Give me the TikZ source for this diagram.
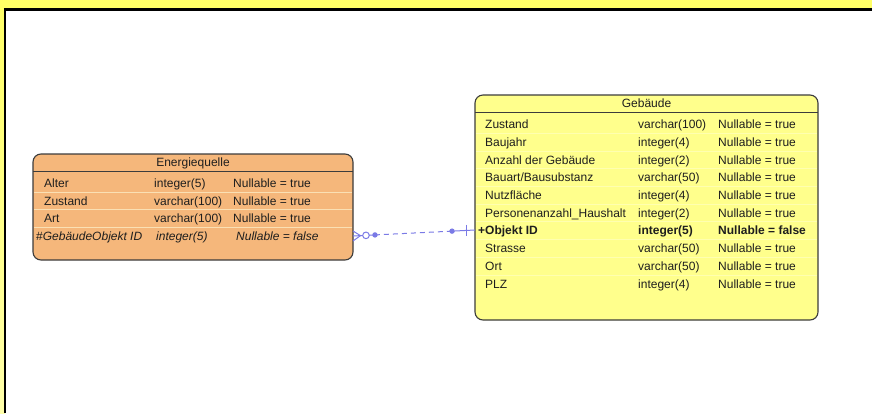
\documentclass[tikz,border=0pt]{standalone}
\usepackage{fontspec}
\setmainfont{Liberation Sans}
\usetikzlibrary{calc}
\definecolor{bgyellow}{HTML}{FFFF66}
\definecolor{bgpale}{HTML}{FFFFAA}
\definecolor{orfill}{HTML}{F5B77B}
\definecolor{yefill}{HTML}{FFFF8C}
\definecolor{edgec}{HTML}{3C3C3C}
\definecolor{orsep}{HTML}{FAE0B4}
\definecolor{yesep}{HTML}{FFFFB0}
\definecolor{conn}{HTML}{7A7AE6}
\definecolor{txt}{HTML}{1E1E1E}
\begin{document}
\begin{tikzpicture}[x=1pt,y=-1pt,
  font=\fontsize{12}{14}\selectfont,
  tablebox/.style={draw=edgec, line width=1.1pt, rounded corners=8pt, inner sep=0pt, outer sep=0pt, anchor=north west},
  cell/.style={anchor=base west, inner sep=0pt, text=txt},
  hdr/.style={anchor=base, inner sep=0pt, text=txt},
  sepline/.style={line width=1pt},
  connline/.style={draw=conn, line width=1pt}]
\useasboundingbox (0,0) rectangle (872,413);
% background frame
\fill[bgyellow] (0,0) rectangle (872,413);
\shade[top color=bgyellow, bottom color=bgpale] (0,9) rectangle (5,413);
\fill[white] (5.3,9) rectangle (872,413);
\draw[black, line width=3pt] (3.8,9) -- (872,9);
\draw[black, line width=2pt] (5.3,9) -- (5.3,413);

% Energiequelle table
\node[tablebox, fill=orfill, minimum width=320pt, minimum height=106pt] (E) at (33,154) {};
\draw[edgec, line width=1pt] (33,171) -- (353,171);
\foreach \yy in {192,209.5,227} \draw[orsep, sepline] (34,\yy) -- (352,\yy);
\node[hdr] (eh) at (193,166.3) {Energiequelle};
\node[cell] (e1a) at (44,187.3) {Alter};
\node[cell] (e1b) at (154,187.3) {integer(5)};
\node[cell] (e1c) at (233,187.3) {Nullable = true};
\node[cell] (e2a) at (44,205.3) {Zustand};
\node[cell] (e2b) at (154,205.3) {varchar(100)};
\node[cell] (e2c) at (233,205.3) {Nullable = true};
\node[cell] (e3a) at (44,222.3) {Art};
\node[cell] (e3b) at (154,222.3) {varchar(100)};
\node[cell] (e3c) at (233,222.3) {Nullable = true};
\node[cell] (e4a) at (36,240.3) {\#\textit{GebäudeObjekt ID}};
\node[cell] (e4b) at (156,240.3) {\textit{integer(5)}};
\node[cell] (e4c) at (236,240.3) {\textit{Nullable = false}};

% Gebaeude table
\node[tablebox, fill=yefill, minimum width=343pt, minimum height=225pt] (G) at (475,95) {};
\draw[edgec, line width=1pt] (475,112) -- (818,112);
\foreach \yy in {133,151,168.5,186,204,221.5,239,257,275} \draw[yesep, sepline] (476,\yy) -- (817,\yy);
\node[hdr] (gh) at (646.5,107.3) {Gebäude};
\node[cell] (g1a) at (485,128.3) {Zustand};
\node[cell] (g1b) at (638,128.3) {varchar(100)};
\node[cell] (g1c) at (718,128.3) {Nullable = true};
\node[cell] (g2a) at (485,146.3) {Baujahr};
\node[cell] (g2b) at (638,146.3) {integer(4)};
\node[cell] (g2c) at (718,146.3) {Nullable = true};
\node[cell] (g3a) at (485,164.3) {Anzahl der Gebäude};
\node[cell] (g3b) at (638,164.3) {integer(2)};
\node[cell] (g3c) at (718,164.3) {Nullable = true};
\node[cell] (g4a) at (485,181.3) {Bauart/Bausubstanz};
\node[cell] (g4b) at (638,181.3) {varchar(50)};
\node[cell] (g4c) at (718,181.3) {Nullable = true};
\node[cell] (g5a) at (485,199.3) {Nutzfläche};
\node[cell] (g5b) at (638,199.3) {integer(4)};
\node[cell] (g5c) at (718,199.3) {Nullable = true};
\node[cell] (g6a) at (485,217.3) {Personenanzahl\_Haushalt};
\node[cell] (g6b) at (638,217.3) {integer(2)};
\node[cell] (g6c) at (718,217.3) {Nullable = true};
\node[cell] (g7a) at (478,234.3) {\textbf{+Objekt ID}};
\node[cell] (g7b) at (638,234.3) {\textbf{integer(5)}};
\node[cell] (g7c) at (718,234.3) {\textbf{Nullable = false}};
\node[cell] (g8a) at (485,252.3) {Strasse};
\node[cell] (g8b) at (638,252.3) {varchar(50)};
\node[cell] (g8c) at (718,252.3) {Nullable = true};
\node[cell] (g9a) at (485,270.3) {Ort};
\node[cell] (g9b) at (638,270.3) {varchar(50)};
\node[cell] (g9c) at (718,270.3) {Nullable = true};
\node[cell] (g10a) at (485,288.3) {PLZ};
\node[cell] (g10b) at (638,288.3) {integer(4)};
\node[cell] (g10c) at (718,288.3) {Nullable = true};

% connector
\coordinate (ea) at ([yshift=-29pt]E.east);
\coordinate (gb) at ([yshift=-22.5pt]G.west);
\draw[connline] (ea) -- ($(ea)!22pt!(gb)$);
\draw[connline, dash pattern=on 5pt off 4pt] ($(ea)!22pt!(gb)$) -- ($(gb)!23pt!(ea)$);
\draw[connline] ($(gb)!23pt!(ea)$) -- (gb);
\draw[connline] ([yshift=5pt]ea) -- ($(ea)!7.5pt!(gb)$) -- ([yshift=-5pt]ea);
\draw[connline, fill=white] ($(ea)!13pt!(gb)$) circle (3.3pt);
\fill[conn] ($(ea)!22pt!(gb)$) circle (2.7pt);
\fill[conn] ($(gb)!23pt!(ea)$) circle (2.7pt);
\draw[connline] ($(gb)!9pt!(ea)$) ++(0,-5.5) -- ++(0,11);
\end{tikzpicture}
\end{document}
